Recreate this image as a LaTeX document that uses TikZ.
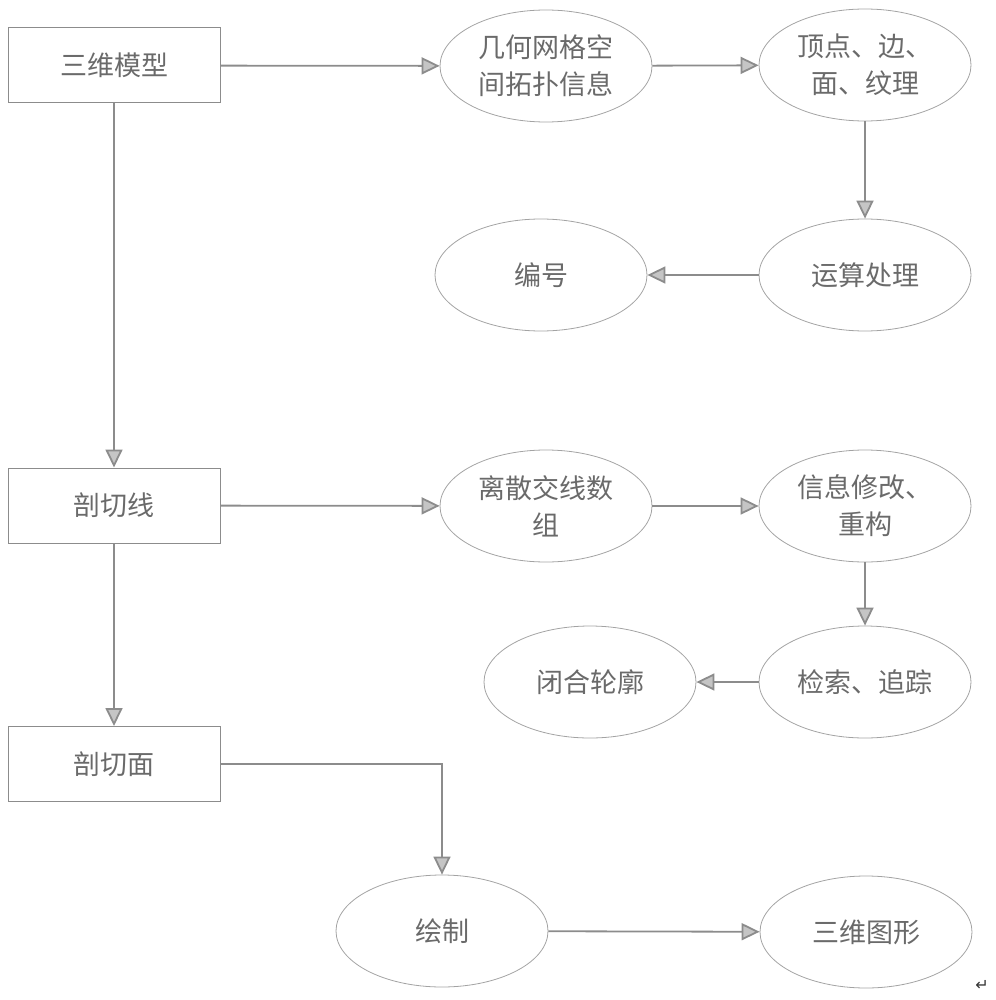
\documentclass[tikz,border=0pt]{standalone}
\usepackage{fontspec}
\setmainfont{Noto Sans CJK SC}
\newfontfamily\markfont{DejaVu Sans}
\usetikzlibrary{shapes.geometric, arrows.meta}
\definecolor{linegray}{HTML}{8C8C8C}
\definecolor{textgray}{HTML}{6A6A6A}
\tikzset{
    x=1pt, y=-1pt,
    every node/.style={
        text=textgray,
        font=\fontsize{27}{37}\selectfont,
        align=center
    },
    stepbox/.style={
        draw=linegray,
        line width=1pt,
        rectangle,
        minimum width=212pt,
        minimum height=75pt
    },
    stage/.style={
        draw=linegray!80,
        line width=0.8pt,
        ellipse,
        inner sep=0pt,
        minimum width=212pt,
        minimum height=112pt
    },
    >={Triangle[length=18pt,width=17pt,fill=linegray!50]},
    every edge/.style={
        draw=linegray,
        ->,
        line width=1.8pt
    }
}

\begin{document}
\begin{tikzpicture}
	\useasboundingbox (0,0) rectangle (995,1000);
	\node[stepbox] at (114,65.5) (model) {三维模型};
	\node[stepbox] at (114,505.5) (cutline) {剖切线};
	\node[stepbox] at (114,764) (cutface) {剖切面};
	\node[stage] at (546,66) (geo) {几何网格空\\间拓扑信息};
	\node[stage] at (865,65) (vert) {顶点、边、\\面、纹理};
	\node[stage] at (865,275) (calc) {运算处理};
	\node[stage] at (541,275) (num) {编号};
	\node[stage] at (546,506) (disc) {离散交线数\\组};
	\node[stage] at (865,506) (info) {信息修改、\\重构};
	\node[stage] at (865,682) (search) {检索、追踪};
	\node[stage] at (590,682) (closed) {闭合轮廓};
	\node[stage] at (442,931) (paint) {绘制};
	\node[stage] at (866,932) (shape) {三维图形};
	\node[text=black!80,font=\markfont\fontsize{16}{16}\selectfont] at (982,985) (mark) {↵};
	\draw
	(model) edge (geo)
	(geo) edge (vert)
	(vert) edge (calc)
	(calc) edge (num)
	(model) edge (cutline)
	(cutline) edge (disc)
	(disc) edge (info)
	(info) edge (search)
	(search) edge (closed)
	(cutline) edge (cutface)
	(paint) edge (shape);
	\draw[draw=linegray,->,line width=1.8pt] (cutface) -| (paint);
\end{tikzpicture}
\end{document}
